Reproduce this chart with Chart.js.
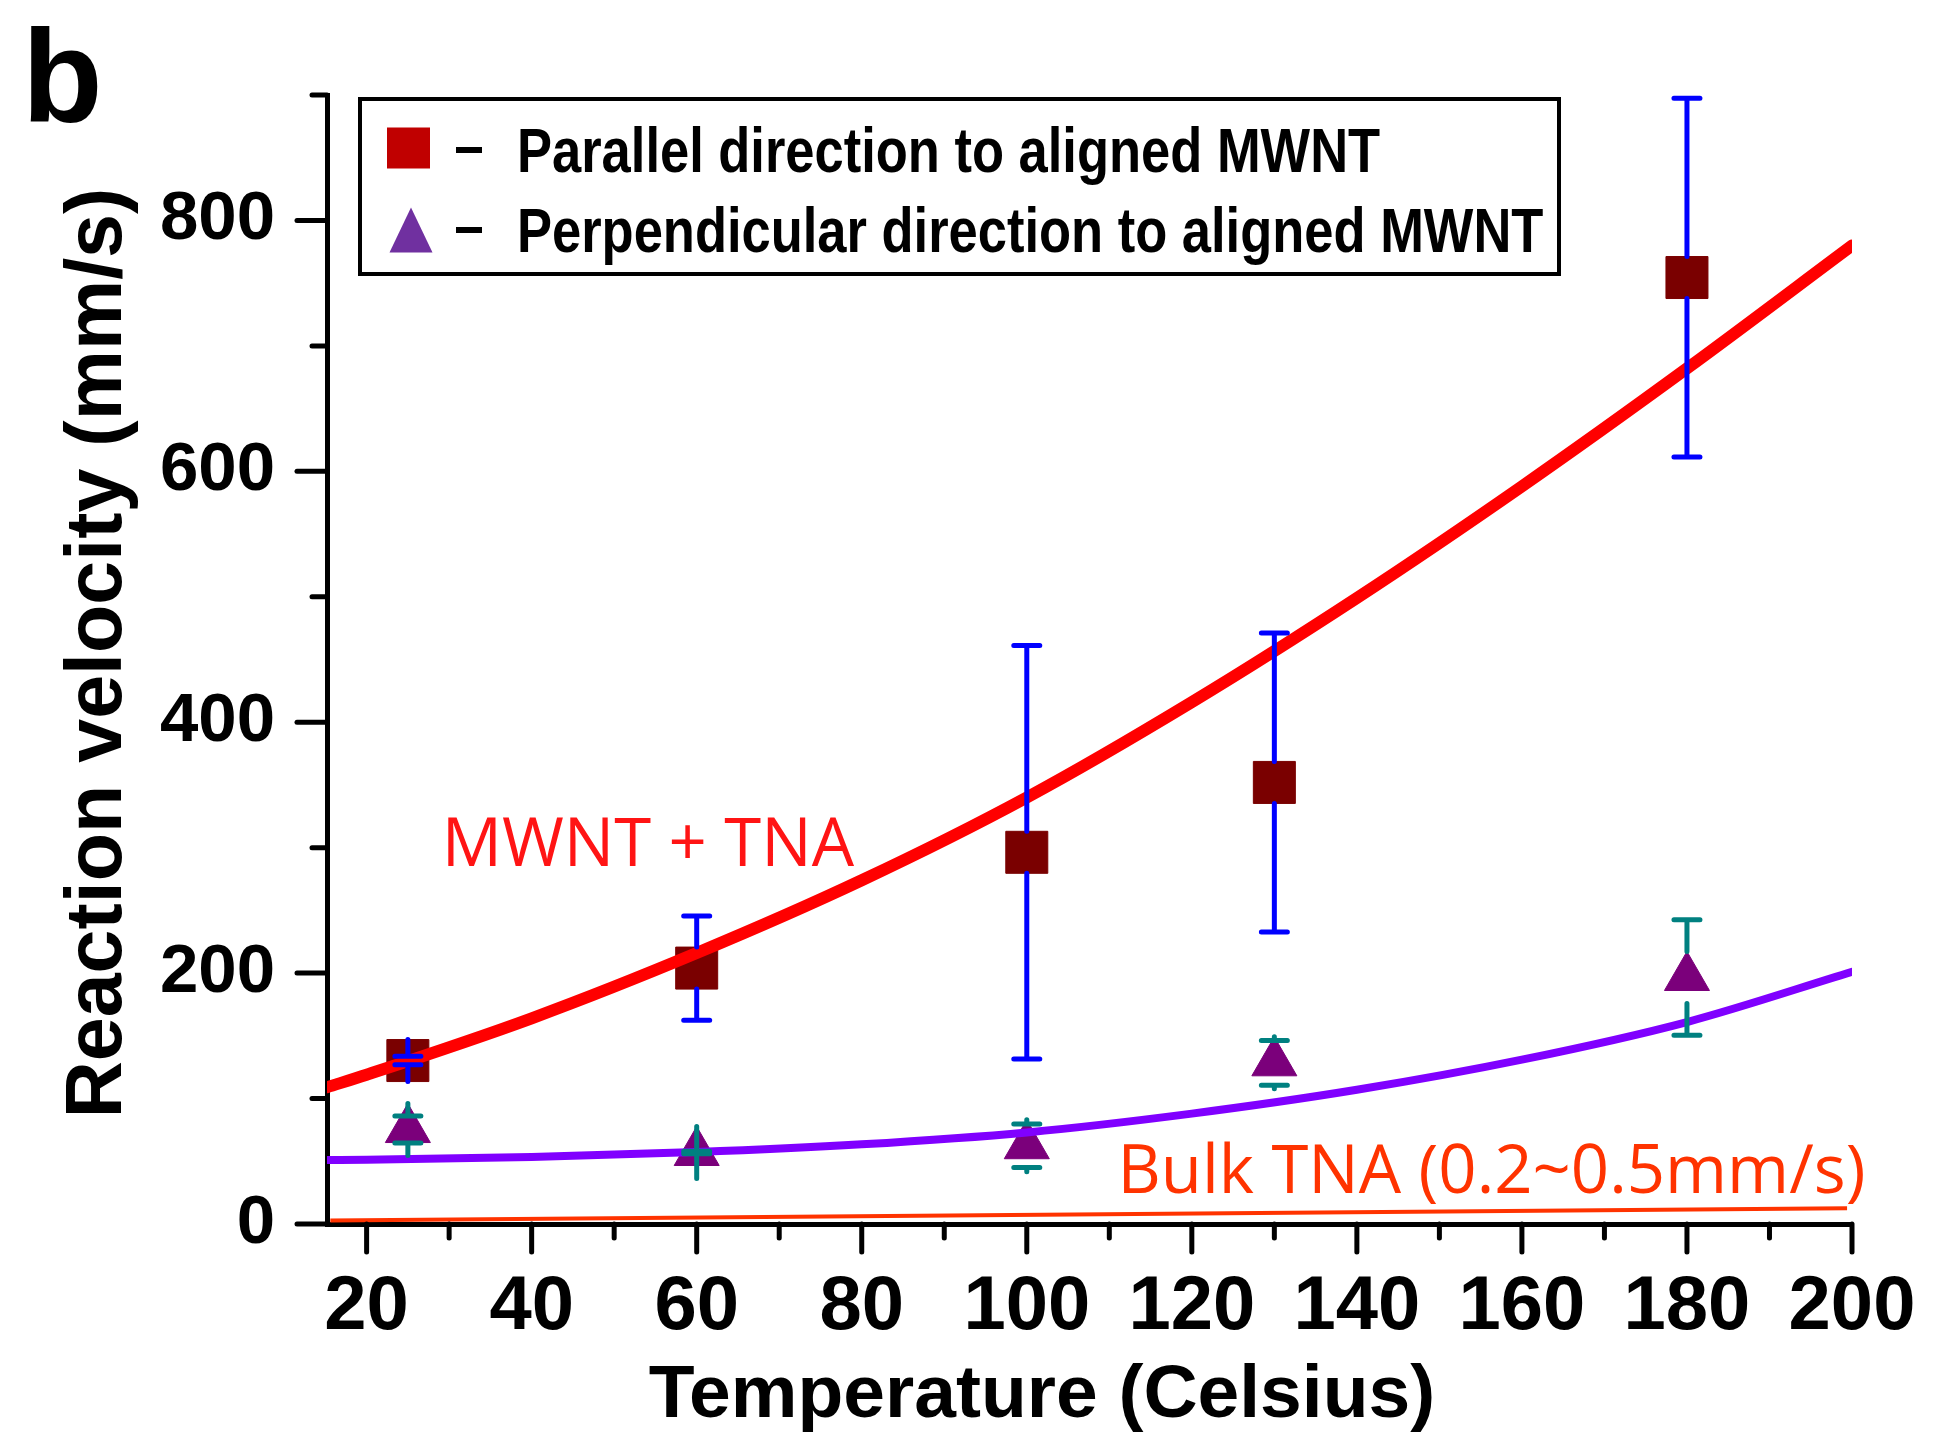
<!DOCTYPE html>
<html>
<head>
<meta charset="utf-8">
<title>Reaction velocity vs temperature</title>
<script src="https://cdn.jsdelivr.net/npm/chart.js@4.4.1/dist/chart.umd.min.js"></script>
<style>
  html, body { margin: 0; padding: 0; background: #fff; }
  #wrap { width: 1933px; height: 1435px; position: relative; }
</style>
</head>
<body>
<div id="wrap"><canvas id="velocityChart"></canvas></div>
<script>
// measured points
const temps = [25, 60, 100, 130, 180];
const parallel_vel = [130.3, 204, 296.3, 352, 754.5];
const parallel_err = [3.4, 41.5, 164.8, 119.2, 143];
const perp_vel = [75.3, 57, 62.4, 128.5, 196.5];
const perp_err = [10.8, 1, 17.4, 17.8, 46];

// fitted curves
const fit_temps = [15.2, 20, 40, 60, 80, 100, 120, 140, 160, 180, 200];
const parallel_fit = [109, 119, 164, 216, 274, 340, 416, 499, 588, 682, 780];
const perp_fit = [51, 51.3, 53.5, 57.3, 63.5, 73, 88, 107, 131, 161, 201];

const bulk_temps = [15.6, 199.4];
const bulk_vel = [2.8, 12.6];

const x_tick_labels = [20, 40, 60, 80, 100, 120, 140, 160, 180, 200];
const y_tick_labels = [0, 200, 400, 600, 800];

function toPoints(xs, ys) {
  let pts = [];
  for (let i = 0; i < xs.length; i++) {
    pts.push({ x: xs[i], y: ys[i] });
  }
  return pts;
}

Chart.defaults.font.family = "'Liberation Sans', Arial, sans-serif";
Chart.defaults.color = "#000";

// error bars: stem runs from the marker edge to the cap (Origin style)
const errorBars = {
  id: "errorBars",
  afterDatasetsDraw(chart) {
    const ctx = chart.ctx;
    const xs = chart.scales.x;
    const ys = chart.scales.y;

    function drawBars(vals, errs, color, half) {
      ctx.save();
      ctx.strokeStyle = color;
      ctx.lineWidth = 5;
      ctx.lineCap = "round";
      for (let i = 0; i < temps.length; i++) {
        const px = xs.getPixelForValue(temps[i]);
        const py = ys.getPixelForValue(vals[i]);
        [1, -1].forEach(function (s) {
          const cy = ys.getPixelForValue(vals[i] + s * errs[i]);
          ctx.beginPath();
          ctx.moveTo(px, py - s * half);
          ctx.lineTo(px, cy);
          ctx.moveTo(px - 13, cy);
          ctx.lineTo(px + 13, cy);
          ctx.stroke();
        });
      }
      ctx.restore();
    }

    drawBars(parallel_vel, parallel_err, "#0000FF", 21);
    drawBars(perp_vel, perp_err, "#008080", 26);
  },
};

// tick marks, titles, notes and the boxed legend
const decorations = {
  id: "decorations",
  afterDraw(chart) {
    const ctx = chart.ctx;
    const xs = chart.scales.x;
    const ys = chart.scales.y;
    const area = chart.chartArea;

    ctx.save();
    ctx.strokeStyle = "#000";
    ctx.lineWidth = 5;
    ctx.lineCap = "round";
    xs.ticks.forEach(function (t) {
      const px = xs.getPixelForValue(t.value);
      const len = t.value % 20 === 0 ? 28 : 14;
      ctx.beginPath();
      ctx.moveTo(px, area.bottom);
      ctx.lineTo(px, area.bottom + len);
      ctx.stroke();
    });
    ys.ticks.forEach(function (t) {
      const py = ys.getPixelForValue(t.value);
      const len = t.value % 200 === 0 ? 30 : 15;
      ctx.beginPath();
      ctx.moveTo(area.left, py);
      ctx.lineTo(area.left - len, py);
      ctx.stroke();
    });
    ctx.restore();

    ctx.save();
    ctx.fillStyle = "#000";
    ctx.textBaseline = "alphabetic";

    ctx.font = "bold 132px 'Liberation Sans', Arial, sans-serif";
    ctx.textAlign = "left";
    ctx.fillText("b", 22, 122);

    ctx.font = "bold 75px 'Liberation Sans', Arial, sans-serif";
    ctx.textAlign = "center";
    ctx.fillText("Temperature (Celsius)", 1042, 1417);

    ctx.save();
    ctx.translate(121, 653);
    ctx.rotate(-Math.PI / 2);
    ctx.font = "bold 79px 'Liberation Sans', Arial, sans-serif";
    ctx.fillText("Reaction velocity (mm/s)", 0, 0);
    ctx.restore();

    // notes inside the plot
    ctx.textAlign = "left";
    ctx.font = "67px 'Open Sans', sans-serif";
    ctx.fillStyle = "#FF1414";
    ctx.fillText("MWNT + TNA", xs.getPixelForValue(29.1), ys.getPixelForValue(285.4));
    ctx.fillStyle = "#FF3300";
    ctx.fillText("Bulk TNA (0.2~0.5mm/s)", xs.getPixelForValue(111), ys.getPixelForValue(24.6));

    // legend box
    ctx.strokeStyle = "#000";
    ctx.lineWidth = 4;
    ctx.strokeRect(360, 99, 1199, 175);

    ctx.fillStyle = "#C00000";
    ctx.fillRect(387, 127.5, 43, 41);
    ctx.fillStyle = "#7030A0";
    ctx.beginPath();
    ctx.moveTo(411, 207.5);
    ctx.lineTo(432.5, 252.5);
    ctx.lineTo(389.5, 252.5);
    ctx.closePath();
    ctx.fill();

    ctx.fillStyle = "#000";
    ctx.fillRect(456, 147, 26, 6);
    ctx.fillRect(456, 227, 26, 6);

    // legend lettering is condensed in the original
    ctx.save();
    ctx.translate(517, 0);
    ctx.scale(0.833, 1);
    ctx.font = "bold 63px 'Liberation Sans', Arial, sans-serif";
    ctx.fillText("Parallel direction to aligned MWNT", 0, 172);
    ctx.fillText("Perpendicular direction to aligned MWNT", 0, 252);
    ctx.restore();
    ctx.restore();
  },
};

const ctx = document.getElementById("velocityChart");

new Chart(ctx, {
  type: "scatter",
  data: {
    datasets: [
      {
        label: "MWNT + TNA fit",
        data: toPoints(fit_temps, parallel_fit),
        showLine: true,
        borderColor: "#FF0000",
        borderWidth: 12,
        borderCapStyle: "round",
        cubicInterpolationMode: "monotone",
        pointRadius: 0,
        order: 0,
      },
      {
        label: "Perpendicular fit",
        data: toPoints(fit_temps, perp_fit),
        showLine: true,
        borderColor: "#8000FF",
        borderWidth: 8,
        borderCapStyle: "round",
        cubicInterpolationMode: "monotone",
        pointRadius: 0,
        order: 0,
      },
      {
        label: "Bulk TNA",
        data: toPoints(bulk_temps, bulk_vel),
        showLine: true,
        borderColor: "#FF3300",
        borderWidth: 4,
        pointRadius: 0,
        order: 0,
      },
      {
        label: "Parallel direction to aligned MWNT",
        data: toPoints(temps, parallel_vel),
        showLine: false,
        pointStyle: "rect",
        pointRadius: 29.7,
        backgroundColor: "#7A0000",
        borderColor: "#7A0000",
        borderWidth: 1,
        order: 1,
      },
      {
        label: "Perpendicular direction to aligned MWNT",
        data: toPoints(temps, perp_vel),
        showLine: false,
        pointStyle: "triangle",
        pointRadius: 26,
        backgroundColor: "#7B007B",
        borderColor: "#7B007B",
        borderWidth: 1,
        order: 1,
      },
    ],
  },
  options: {
    responsive: true,
    maintainAspectRatio: false,
    animation: false,
    layout: { padding: { top: 95, right: 81, left: 0, bottom: 0 } },
    plugins: {
      legend: { display: false },
      tooltip: { enabled: false },
    },
    scales: {
      x: {
        type: "linear",
        min: 15.2,
        max: 200,
        afterFit: function (scale) {
          scale.height = 211;
          scale.paddingLeft = 0;
          scale.paddingRight = 0;
        },
        grid: { display: false, drawTicks: false },
        border: { display: true, color: "#000", width: 5 },
        ticks: {
          stepSize: 10,
          autoSkip: false,
          includeBounds: false,
          maxRotation: 0,
          padding: 38,
          color: "#000",
          font: { size: 76, weight: "bold" },
          callback: function (value) {
            return x_tick_labels.includes(value) ? String(value) : "";
          },
        },
      },
      y: {
        type: "linear",
        min: 0,
        max: 900,
        afterFit: function (scale) {
          scale.width = 327;
          scale.paddingTop = 0;
          scale.paddingBottom = 0;
        },
        grid: { display: false, drawTicks: false },
        border: { display: true, color: "#000", width: 5 },
        ticks: {
          stepSize: 100,
          autoSkip: false,
          padding: 52,
          color: "#000",
          font: { size: 69, weight: "bold" },
          callback: function (value) {
            return y_tick_labels.includes(value) ? String(value) : "";
          },
        },
      },
    },
  },
  plugins: [errorBars, decorations],
});
</script>
</body>
</html>
